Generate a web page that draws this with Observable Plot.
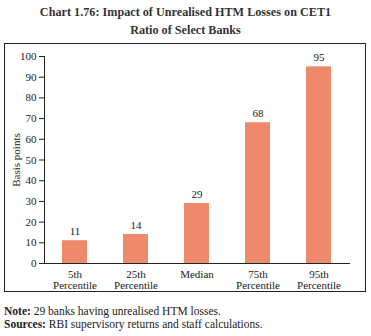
<!DOCTYPE html>
<html><head><meta charset="utf-8">
<script src="https://cdn.jsdelivr.net/npm/d3@7"></script>
<script src="https://cdn.jsdelivr.net/npm/@observablehq/plot@0.6"></script>
<style>
body{margin:0;background:#fff;font-family:"Liberation Serif",serif;color:#222}
#wrap{width:371px;height:336px}
#title{text-align:center;font-weight:bold;font-size:12.2px;line-height:18px;padding-top:3px;height:40px;color:#333}
#box{margin-left:4px;width:360px;height:247px;border:1px solid #222}
#box svg{display:block}
#notes{margin-left:4px;margin-top:13px;font-size:11.5px;line-height:13px;color:#222}
</style></head>
<body><div id="wrap">
<div id="title">Chart 1.76: Impact of Unrealised HTM Losses on CET1<br>Ratio of Select Banks</div>
<div id="box"></div>
<div id="notes"><b>Note:</b> 29 banks having unrealised HTM losses.<br><b>Sources:</b> RBI supervisory returns and staff calculations.</div>
</div>
<script>
const categories = ["5th Percentile","25th Percentile","Median","75th Percentile","95th Percentile"];
const values = [11,14,29,68,95];
const yTicks = [0,10,20,30,40,50,60,70,80,90,100];
const data = categories.map((c,i)=>({cat:c,val:values[i]}));
const chart = Plot.plot({
  width:360,height:247,
  marginLeft:39,marginTop:12,marginBottom:28,marginRight:15,
  style:{fontFamily:"Liberation Serif, serif",fontSize:"11px",color:"#222",background:"#fff"},
  x:{domain:categories,paddingInner:0.59,paddingOuter:0.295,label:null,tickSize:0,tickPadding:7,
     tickFormat:d=>d.replace(" ","\n")},
  y:{domain:[0,100],ticks:yTicks,label:"Basis points",labelAnchor:"center",labelArrow:"none",
     tickSize:5,tickPadding:3,labelOffset:32},
  marks:[
    Plot.barY(data,{x:"cat",y:"val",fill:"#EE8A6B"}),
    Plot.text(data,{x:"cat",y:"val",text:d=>String(d.val),dy:-9,fontSize:11,fill:"#222"}),
    Plot.frame({anchor:"left",stroke:"#222"}),
    Plot.ruleY([0],{stroke:"#222"})
  ]
});
document.getElementById("box").appendChild(chart);
</script>
</body></html>
